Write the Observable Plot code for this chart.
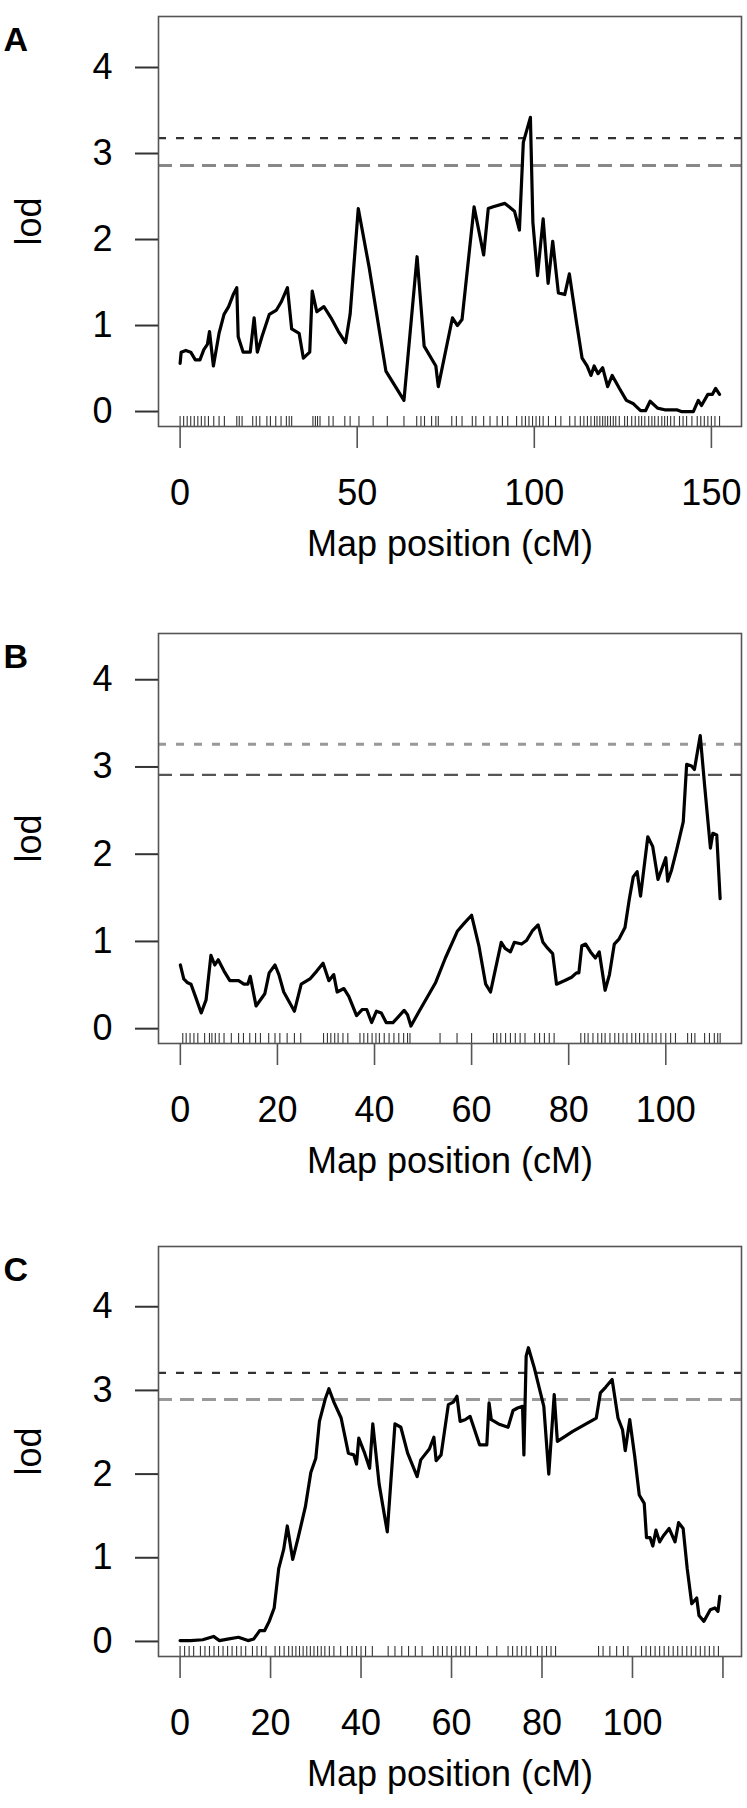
<!DOCTYPE html>
<html><head><meta charset="utf-8">
<script src="https://cdn.jsdelivr.net/npm/d3@7"></script>
<script src="https://cdn.jsdelivr.net/npm/@observablehq/plot@0.6"></script>
<style>
body{margin:0;background:#fff;}
#chart svg{display:block;}
</style></head><body><div id="chart"></div>
<script>
// ---- Panel A data ----
const aPos = [0,0.3,1.6,3,4.3,5.6,6.7,7.7,8.3,9.4,11,12.4,13.7,15,16,16.4,17.8,19.8,20.9,21.8,23.1,25.2,27.2,28.5,30.3,31.5,33.6,34.8,36.6,37.3,38.6,40.6,42.6,44.7,46.7,48,50.3,53.4,58.1,63.2,66.9,68.9,72.2,72.9,76.9,78.3,79.6,83,85.7,87,88.4,91.7,94.4,95.8,96.9,98.9,99.6,100.9,102.5,103.9,105.2,106.8,108.6,109.9,111.9,113.5,114.9,116,116.9,118,119.3,120.7,122,124,126,128,130,131.4,132.7,134.8,136.8,140.2,141.5,144.9,146.3,147.2,149,150.3,151.2,152.3];
const aLod = [0.56,0.69,0.71,0.69,0.6,0.6,0.72,0.78,0.93,0.53,0.91,1.13,1.22,1.36,1.44,0.87,0.69,0.69,1.09,0.69,0.87,1.13,1.18,1.27,1.44,0.96,0.91,0.62,0.69,1.4,1.16,1.22,1.09,0.93,0.8,1.13,2.36,1.67,0.47,0.13,1.8,0.76,0.53,0.29,1.09,1.0,1.07,2.38,1.82,2.36,2.38,2.42,2.33,2.11,3.13,3.42,2.2,1.58,2.24,1.49,1.98,1.38,1.36,1.6,1.04,0.62,0.53,0.42,0.53,0.44,0.51,0.29,0.42,0.27,0.13,0.09,0.01,0.01,0.12,0.04,0.02,0.02,0.0,0.0,0.13,0.07,0.2,0.2,0.27,0.2];
const aMarkers = [0,1,2,3,4,5,6,7,8,9.5,11,12.5,16,16.7,17.5,20.5,21.5,22.5,24.5,25.5,27,28.5,30,30.8,31.5,37.5,38.2,38.8,39.5,42,43.2,46.5,48,50.5,54.5,58.5,63.2,66.8,68,69,71,72.2,72.9,76.7,78,79.6,82.5,83.5,85.7,87.5,89.5,91,92.5,95,96.5,97.5,98.5,99.5,100.5,101.5,102.5,104,106,107.5,110,111.5,113,114,115,116,117,117.7,118.5,119.3,120,120.7,121.5,122.3,123,124,125.5,126.3,127.5,128.5,129.5,130.3,131.2,132.3,133.2,134,135,136,136.8,137.6,138.5,139.5,141,142,143,144.5,146,147,148,149,150,151,152.3];
const aThresholds = [3.18, 2.86];
const aTicks = [0, 50, 100, 150];
const aTickLabels = ["0", "50", "100", "150"];

// ---- Panel B data ----
const bPos = [0,0.7,1.4,2.2,3.1,4.3,5.3,6.3,7.1,7.8,9,10.2,12,13.1,13.9,14.4,15.6,17.4,18.3,19.5,20.3,21.3,23.5,24.9,26.7,28.1,29.4,30.6,31.6,32.3,33.7,34.7,36.3,37.5,38.4,39.4,40.4,41.4,42.4,43.8,44.8,46.1,46.8,47.5,49.2,52.6,54.6,57.1,58.5,60,61.5,62.9,63.9,64.9,66.1,66.9,68,68.8,70.3,71.3,72.5,73.7,74.7,75.7,76.7,77.5,79.1,80.6,81.6,82.1,82.7,83.5,84.5,85.5,86.3,87.5,88.4,89.4,90.4,91.6,92.5,93.3,94.1,94.8,96.3,97.3,98.4,100,100.4,101.2,102.2,103.6,104.3,105.3,105.9,107.1,108,109.2,109.7,110.5,111.2];
const bLod = [0.73,0.57,0.53,0.51,0.37,0.18,0.33,0.84,0.73,0.79,0.66,0.55,0.55,0.51,0.51,0.6,0.26,0.4,0.64,0.73,0.62,0.42,0.2,0.51,0.57,0.66,0.75,0.55,0.62,0.42,0.46,0.37,0.15,0.22,0.22,0.07,0.2,0.18,0.07,0.07,0.13,0.21,0.16,0.03,0.2,0.53,0.81,1.12,1.21,1.3,0.95,0.51,0.42,0.68,0.99,0.92,0.88,0.99,0.97,1.01,1.12,1.19,0.99,0.92,0.86,0.51,0.55,0.59,0.64,0.64,0.95,0.97,0.88,0.81,0.88,0.44,0.62,0.97,1.03,1.16,1.49,1.74,1.8,1.52,2.2,2.09,1.71,1.96,1.69,1.82,2.04,2.37,3.03,3.01,2.97,3.36,2.79,2.07,2.24,2.22,1.49];
const bMarkers = [0.5,1.2,2,2.8,3.6,5,6,6.5,7.2,8,9,10.5,12,13,14.3,15.5,16.5,18.2,19.5,20.5,22,23.5,24.8,29.5,30.3,31,31.8,32.5,33.5,34.5,37,37.8,38.6,39.5,40.3,41,42,43,44,45,46,46.8,47.3,53.5,57,60,64.5,65.2,66,67,68,69,70,71,73,74,75,76,77,82.5,83.3,84,85,86,86.8,87.5,88.5,89.5,90.3,91.2,92,93,93.8,94.6,95.5,96.3,97.2,98,99,100,101,102,104.5,105.3,106,108,109,110,110.7,111.2];
const bThresholds = [3.26, 2.91];
const bTicks = [0, 20, 40, 60, 80, 100];
const bTickLabels = ["0", "20", "40", "60", "80", "100"];

// ---- Panel C data ----
const cPos = [0,2.3,5,7.4,8.7,10.8,12.9,15,16.3,17.6,18.7,19.7,20.8,21.8,22.9,23.7,24.9,26.1,27.7,28.9,30,30.8,32.1,32.9,34,35.6,37.2,38.4,39,39.5,40.8,41.9,42.6,44,45.8,47.5,48.8,50.3,52.4,53.2,55.1,56.1,56.6,57.7,59.3,60.4,61.2,61.9,63,64.1,66.2,67.8,68.3,68.8,70.4,72.5,73.6,74.6,75.7,76,76.5,77,78.3,80.4,81.5,82.7,83.4,86.8,92,92.9,94.1,95.5,96.8,97.8,98.4,99.4,100.5,101.5,102.6,103.1,103.9,104.5,105.2,106,106.8,108.1,109.4,110.2,111.2,112.1,113.1,114.2,114.7,115.8,117.2,118.2,118.9,119.3];
const cLod = [0.01,0.01,0.02,0.06,0.01,0.03,0.05,0.01,0.03,0.13,0.13,0.24,0.4,0.87,1.1,1.38,0.98,1.24,1.61,2.02,2.19,2.63,2.9,3.02,2.86,2.67,2.25,2.23,2.12,2.43,2.25,2.07,2.6,1.88,1.31,2.6,2.56,2.25,1.97,2.17,2.3,2.44,2.16,2.23,2.83,2.86,2.93,2.63,2.65,2.69,2.35,2.35,2.85,2.65,2.6,2.56,2.76,2.79,2.81,2.23,3.41,3.51,3.27,2.81,2.0,2.95,2.39,2.51,2.67,2.97,3.04,3.13,2.67,2.53,2.28,2.65,2.21,1.75,1.65,1.24,1.24,1.14,1.33,1.19,1.26,1.35,1.19,1.42,1.35,0.87,0.45,0.52,0.31,0.24,0.38,0.4,0.36,0.54];
const cMarkers = [0,1,2,3,4.5,5.5,6.5,7.5,8.5,9.5,10.5,11.5,12.5,13.5,14.5,16,17,18,19,21,22,23,24,24.8,25.6,26.4,27.2,28,28.8,29.6,30.4,31.2,32,33,34,35.5,37,38,39,40,41,42.5,46,47.5,49,50.5,52,53.5,56,57,58,59,60,61,62,63,64,65.5,68,70,72.5,73.5,74.5,75.5,76.5,77.5,79,80,81,82,83,92.5,93.5,95,96.5,98,99,102,103,104,105,106,107,108,109,110,111,112,113,114,115,116,117,118,119];
const cThresholds = [3.21, 2.89];
const cTicks = [0, 20, 40, 60, 80, 100, 120];
const cTickLabels = ["0", "20", "40", "60", "80", "100", ""];

const yTicks = [0, 1, 2, 3, 4];
const xTitle = "Map position (cM)";
const yTitle = "lod";

const FONT = "'Liberation Sans', Arial, Helvetica, sans-serif";

function panel({letter, pos, lod, markers, thresholds, ticks, tickLabels, xDomain, yDomain, height, upperStyle, lowerStyle}) {
  const rows = pos.map((p, i) => ({p, l: lod[i]}));
  const boxBottom = 426;
  return Plot.plot({
    width: 747,
    height,
    marginTop: 16,
    marginLeft: 158,
    marginRight: 6,
    marginBottom: height - boxBottom,
    x: {domain: xDomain},
    y: {domain: yDomain},
    style: {fontFamily: FONT, background: "white", color: "black", overflow: "visible"},
    marks: [
      Plot.ruleY([thresholds[0]], {stroke: upperStyle.color, strokeWidth: upperStyle.width, strokeDasharray: upperStyle.dash}),
      Plot.ruleY([thresholds[1]], {stroke: lowerStyle.color, strokeWidth: lowerStyle.width, strokeDasharray: lowerStyle.dash}),
      Plot.ruleX(markers, {x: d => d, insetTop: 400, stroke: "#111", strokeWidth: 1.1, strokeOpacity: 0.85}),
      Plot.line(rows, {x: "p", y: "l", stroke: "black", strokeWidth: 3.2, strokeLinejoin: "round", strokeLinecap: "round"}),
      Plot.frame({stroke: "#555", strokeWidth: 1.6}),
      Plot.axisX({ticks, tickFormat: (d) => tickLabels[ticks.indexOf(d)], tickSize: 22, tickPadding: 31, fontSize: 36, label: null, stroke: "#555", strokeWidth: 1.6}),
      Plot.axisY({ticks: yTicks, tickFormat: d => String(d), tickSize: 23, tickPadding: 23, fontSize: 36, label: null, stroke: "#333", strokeWidth: 2}),
      Plot.text([yTitle], {text: d => d, frameAnchor: "left", dx: -129, rotate: -90, fontSize: 36, textAnchor: "middle", fill: "black"}),
      Plot.text([xTitle], {text: d => d, frameAnchor: "bottom", dy: 129, fontSize: 36, textAnchor: "middle", fill: "black"}),
      Plot.text([letter], {text: d => d, frameAnchor: "top-left", dx: -155, dy: 10, fontSize: 34, fontWeight: "bold", textAnchor: "start", fill: "black"})
    ]
  });
}

const chart = document.getElementById("chart");
chart.append(panel({
  letter: "A", pos: aPos, lod: aLod, markers: aMarkers, thresholds: aThresholds,
  ticks: aTicks, tickLabels: aTickLabels, xDomain: [-6.1, 158.5], yDomain: [-0.174, 4.593], height: 617,
  upperStyle: {color: "#333", width: 2.2, dash: "8,10"}, lowerStyle: {color: "#888", width: 3, dash: "14,8"}
}));
chart.append(panel({
  letter: "B", pos: bPos, lod: bLod, markers: bMarkers, thresholds: bThresholds,
  ticks: bTicks, tickLabels: bTickLabels, xDomain: [-4.5, 115.6], yDomain: [-0.17, 4.53], height: 613,
  upperStyle: {color: "#999", width: 3, dash: "8,10"}, lowerStyle: {color: "#555", width: 2.2, dash: "14,8"}
}));
chart.append(panel({
  letter: "C", pos: cPos, lod: cLod, markers: cMarkers, thresholds: cThresholds,
  ticks: cTicks, tickLabels: cTickLabels, xDomain: [-4.77, 124.1], yDomain: [-0.18, 4.72], height: 578,
  upperStyle: {color: "#333", width: 2.2, dash: "8,10"}, lowerStyle: {color: "#999", width: 3, dash: "14,8"}
}));
</script>
</body></html>
